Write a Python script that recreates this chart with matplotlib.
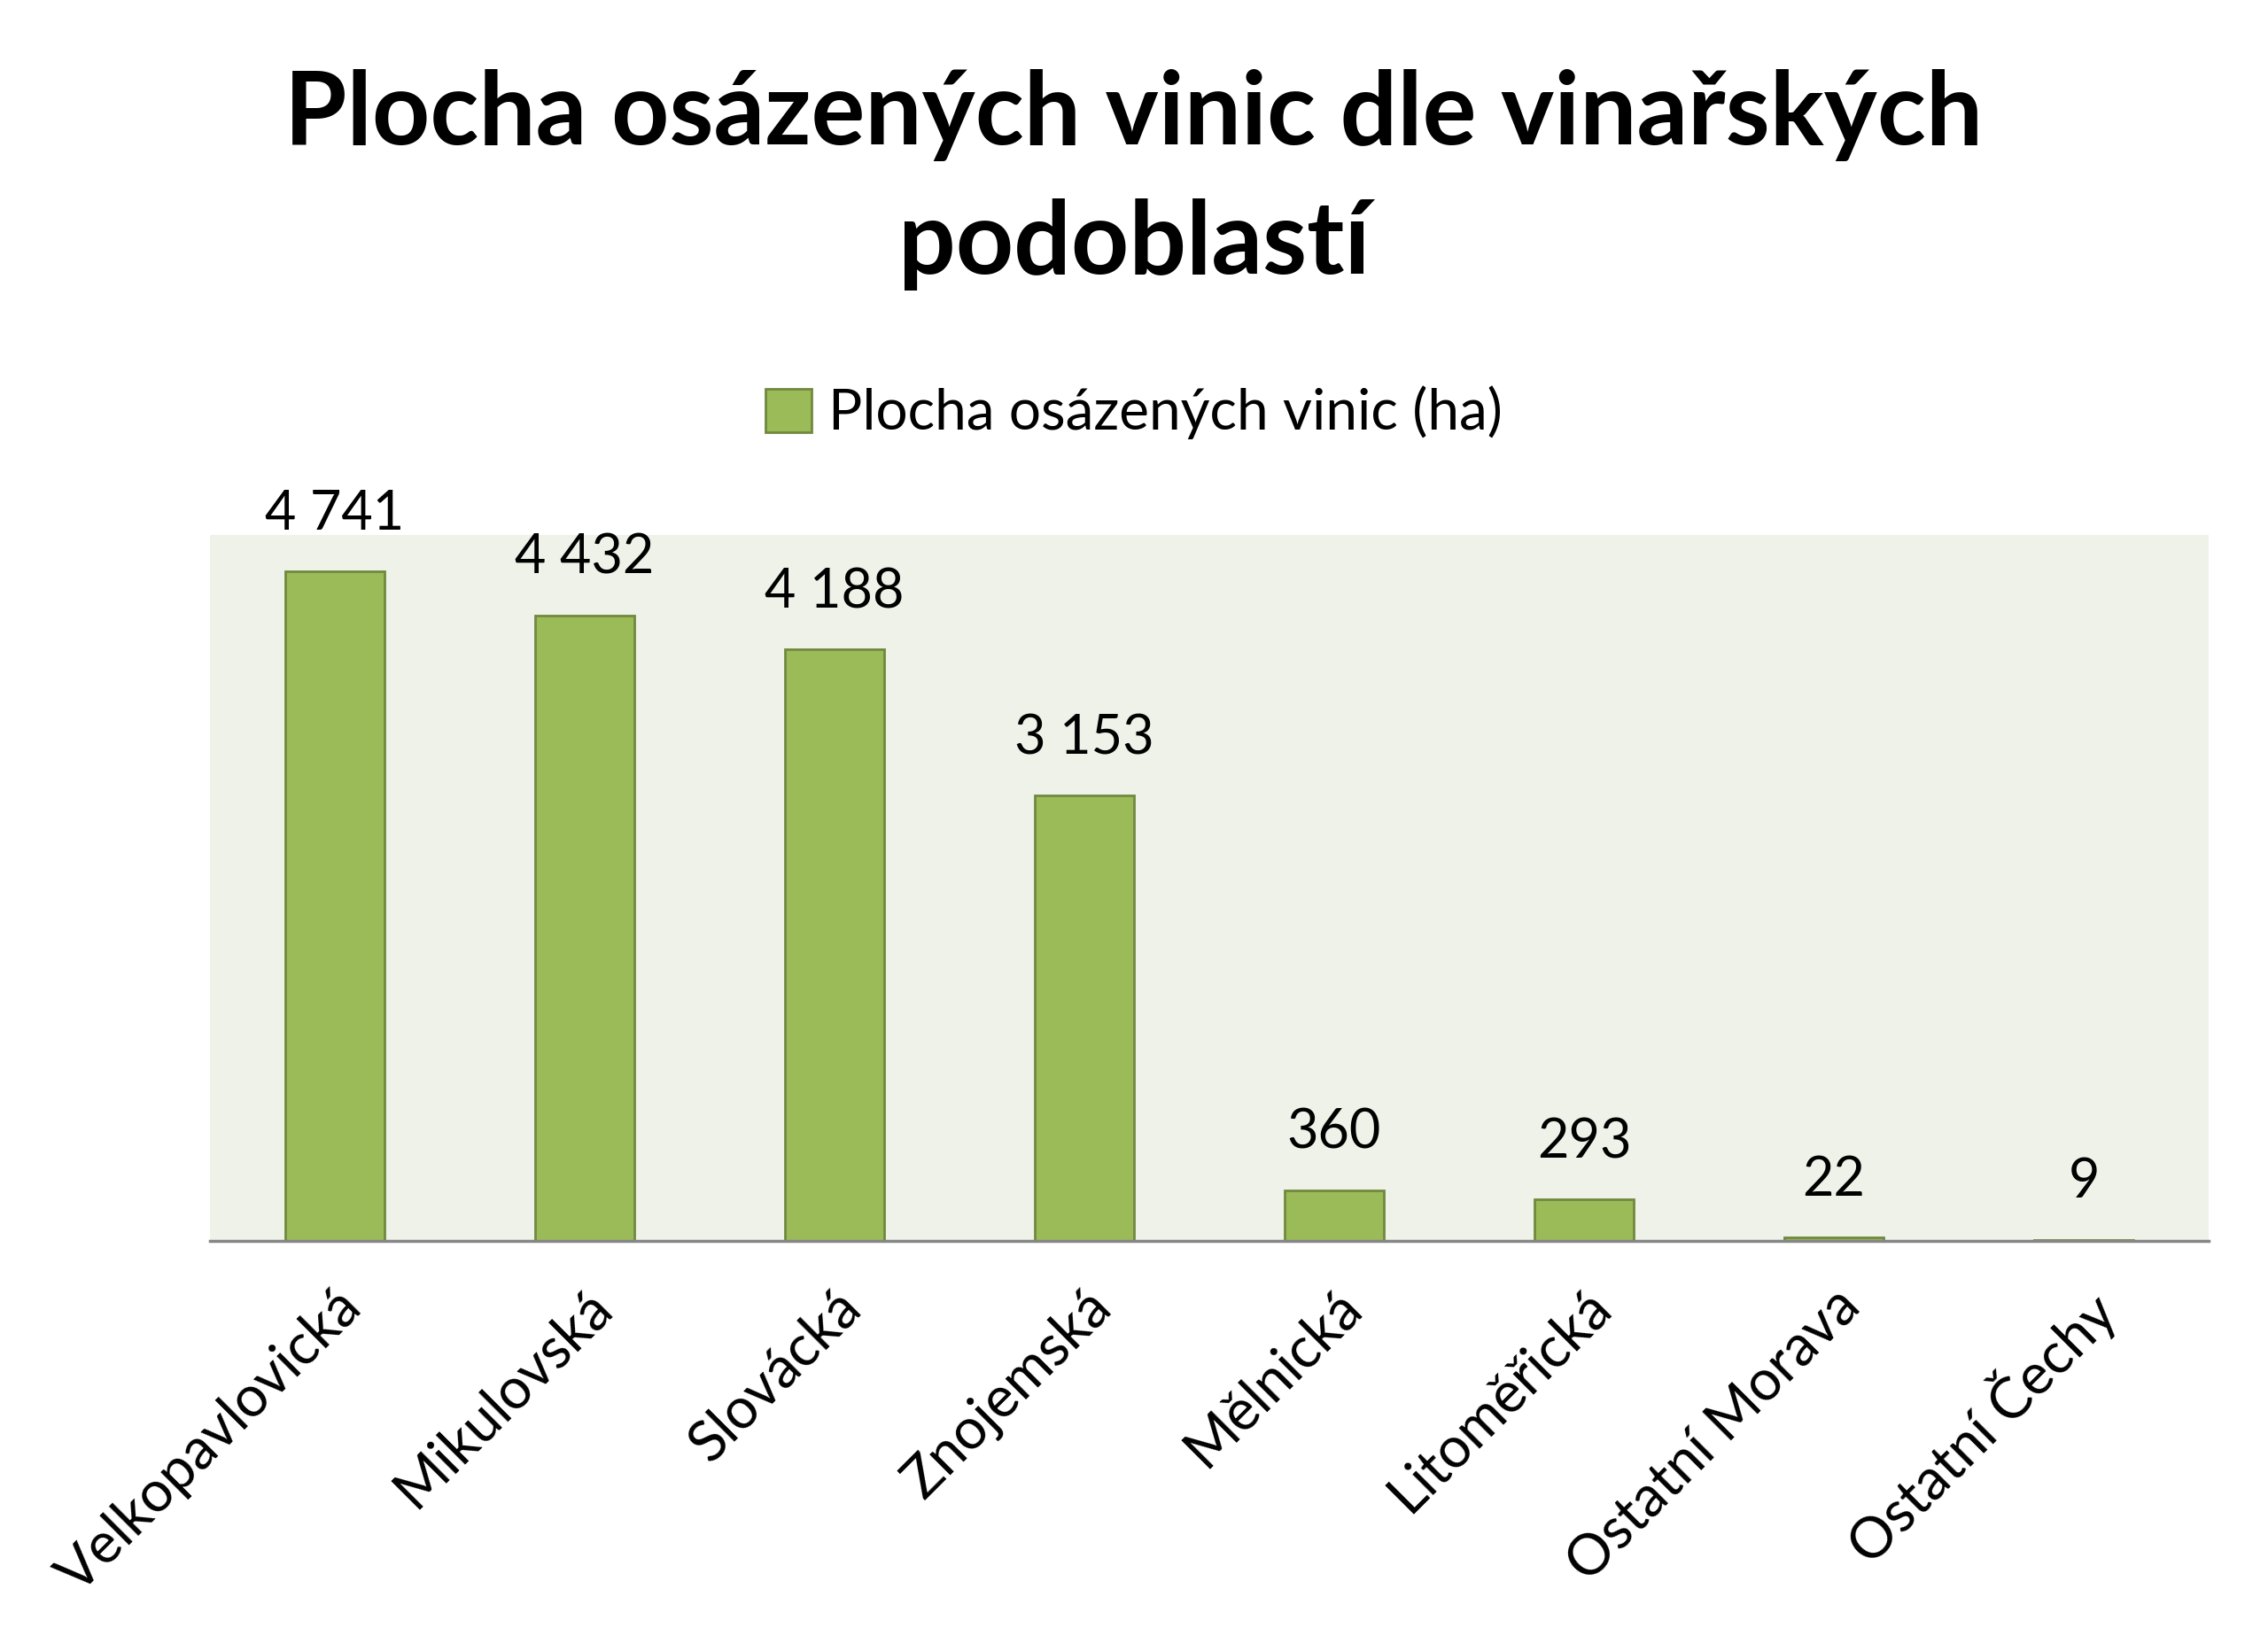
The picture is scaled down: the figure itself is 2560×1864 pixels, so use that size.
import matplotlib.pyplot as plt
import numpy as np
from matplotlib.patches import Patch

regions = ["Velkopavlovická", "Mikulovská", "Slovácká", "Znojemská",
           "Mělnická", "Litoměřická", "Ostatní Morava", "Ostatní Čechy"]
area_ha = [4741, 4432, 4188, 3153, 360, 293, 22, 9]
area_labels = ["4 741", "4 432", "4 188", "3 153", "360", "293", "22", "9"]

title_lines = ["Plocha osázených vinic dle vinařských", "podoblastí"]
series_name = "Plocha osázených vinic (ha)"

plt.rcParams['font.family'] = ['Lato', 'DejaVu Sans']

fig = plt.figure(figsize=(25.6, 18.64), dpi=100)
ax = fig.add_axes([237/2560, 1 - 1401/1864, (2493-237)/2560, (1401-604)/1864])
ax.set_facecolor("#eef2e8")

x = np.arange(len(regions))
ax.bar(x, area_ha, width=0.4, color="#9bbb59", edgecolor="#71893f", linewidth=2)
for xi, v, lab in zip(x, area_ha, area_labels):
    ax.annotate(lab, (xi, v), xytext=(0, 26), textcoords="offset points",
                ha="center", va="bottom", fontsize=44)

ax.set_xlim(-0.5, len(regions) - 0.5)
ax.set_ylim(0, 5000)
ax.set_yticks([])
ax.set_xticks(x)
ax.set_xticklabels(regions, rotation=45, ha="right", rotation_mode="anchor", fontsize=46)
ax.tick_params(axis="x", length=0, pad=32)
for s in ["top", "left", "right"]:
    ax.spines[s].set_visible(False)
ax.spines["bottom"].set_color("#868686")
ax.spines["bottom"].set_linewidth(2.5)

fig.text(0.5, 1 - 130/1864, title_lines[0], ha="center", va="center", fontsize=82,
         fontweight="bold")
fig.text(0.5, 1 - 276/1864, title_lines[1], ha="center", va="center", fontsize=82,
         fontweight="bold")

handle = Patch(facecolor="#9bbb59", edgecolor="#71893f", linewidth=2)
fig.legend([handle], [series_name], loc="center", bbox_to_anchor=(0.5, 1 - 466/1864),
           frameon=False, fontsize=46, handlelength=0.8, handleheight=0.8, handletextpad=0.3)

fig.savefig("out.png", dpi=100, facecolor="white")
